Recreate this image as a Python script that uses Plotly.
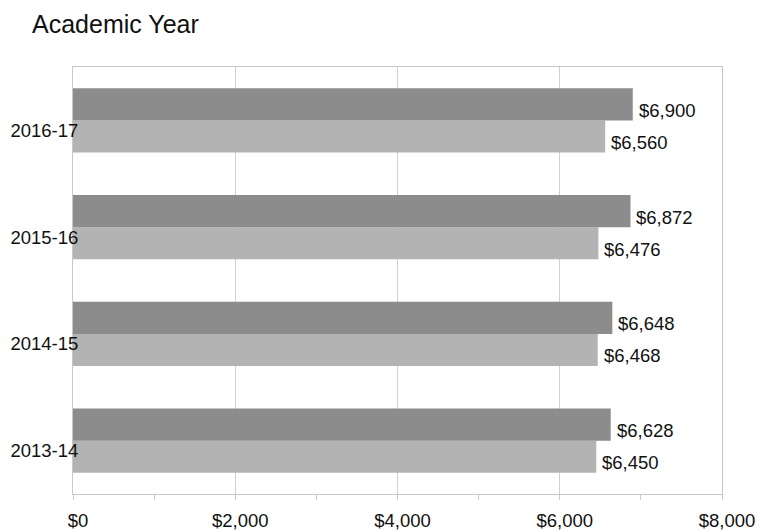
import plotly.graph_objects as go

years = ["2013-14", "2014-15", "2015-16", "2016-17"]
series_dark = [6628, 6648, 6872, 6900]
series_light = [6450, 6468, 6476, 6560]
x_tickvals = [0, 2000, 4000, 6000, 8000]
x_ticktext = ["$0", "$2,000", "$4,000", "$6,000", "$8,000"]

font = "Liberation Sans, Arial, sans-serif"
fs = 18.5

fig = go.Figure()
fig.add_trace(go.Bar(
    y=years, x=series_light, orientation="h", name="light",
    marker=dict(color="#b3b3b3", line=dict(width=0)),
))
fig.add_trace(go.Bar(
    y=years, x=series_dark, orientation="h", name="dark",
    marker=dict(color="#8c8c8c", line=dict(width=0)),
))

# value labels, placed at each bar's end (pixel offsets for the grouped slot)
for vals, yshift in ((series_dark, 10), (series_light, -22)):
    for cat, v in zip(years, vals):
        fig.add_annotation(
            x=v, y=cat, xref="x", yref="y", text=f"${v:,}", showarrow=False,
            xanchor="left", yanchor="middle", xshift=4, yshift=yshift,
            font=dict(family=font, size=fs, color="#111111"),
        )

fig.update_layout(
    width=762, height=531,
    margin=dict(l=73, r=40, t=67, b=37, autoexpand=False),
    paper_bgcolor="white", plot_bgcolor="white",
    barmode="group", bargap=0.4, bargroupgap=0,
    showlegend=False,
    font=dict(family=font, size=fs, color="#111111"),
    title=dict(text="Academic Year", x=32/762, xref="container", xanchor="left",
               y=1-24/531, yref="container", yanchor="middle",
               font=dict(family=font, size=25, color="#111111")),
)
fig.update_xaxes(
    range=[0, 8000], tickvals=x_tickvals, ticktext=x_ticktext,
    showgrid=True, gridcolor="#d0d0d0", gridwidth=1,
    showline=True, linecolor="#c8c8c8", linewidth=1, mirror=True,
    ticks="outside", ticklen=5, tickcolor="#c8c8c8",
    minor=dict(dtick=1000, ticks="outside", ticklen=5, tickcolor="#c8c8c8", showgrid=False),
    ticklabelstandoff=5, ticklabelshift=5, zeroline=False, automargin=False,
    tickfont=dict(family=font, size=fs, color="#111111"),
)
fig.update_yaxes(
    showgrid=False, showline=True, linecolor="#c8c8c8", linewidth=1, mirror=True,
    ticks="", ticklabelstandoff=-10, ticklabelshift=10, automargin=False,
    tickfont=dict(family=font, size=fs, color="#111111"),
)

fig.write_html("out.html")
